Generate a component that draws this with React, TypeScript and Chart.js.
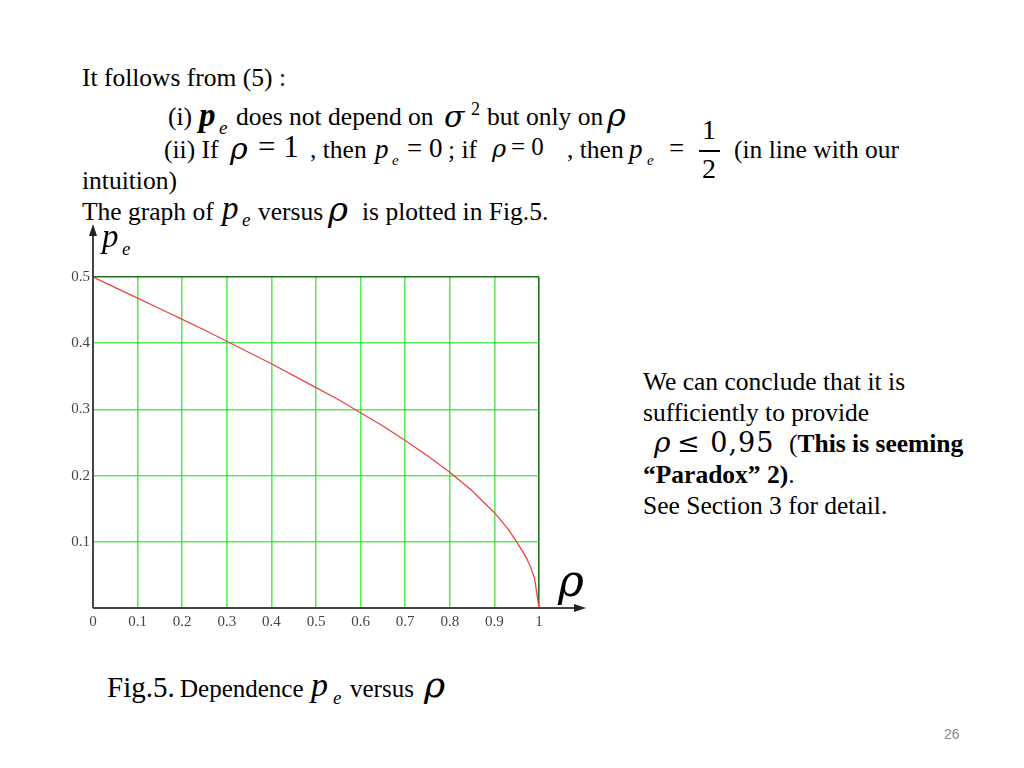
import { useEffect, useRef } from 'react';
import Chart from 'chart.js/auto';

const rho = [0, 0.05, 0.1, 0.15, 0.2, 0.25, 0.3, 0.35, 0.4, 0.45, 0.5, 0.55, 0.6, 0.65, 0.7, 0.75, 0.8, 0.85, 0.9, 0.93, 0.95, 0.97, 0.98, 0.99, 1];
const pe = [0.5, 0.484, 0.468, 0.452, 0.436, 0.42, 0.403, 0.386, 0.369, 0.351, 0.333, 0.315, 0.295, 0.275, 0.253, 0.23, 0.205, 0.177, 0.144, 0.12, 0.1, 0.078, 0.064, 0.045, 0];
const xTicks = [0, 0.1, 0.2, 0.3, 0.4, 0.5, 0.6, 0.7, 0.8, 0.9, 1];
const yTicks = [0.1, 0.2, 0.3, 0.4, 0.5];

const SERIF = '"Liberation Serif", "Times New Roman", serif';
const GREEK = '"DejaVu Serif", serif';
const BODY = 25.5;

const T = ({ x, y, s = BODY, i = false, b = false, f = SERIF, c = '#000', ls = 0, children }: any) => (
  <span
    style={{
      position: 'absolute',
      left: x,
      top: y - s * 0.84,
      fontSize: s,
      lineHeight: 1,
      fontStyle: i ? 'italic' : 'normal',
      fontWeight: b ? 'bold' : 'normal',
      fontFamily: f,
      color: c,
      letterSpacing: ls,
      whiteSpace: 'nowrap',
    }}
  >
    {children}
  </span>
);

const axisArrows = {
  id: 'axisArrows',
  afterDraw(chart: any) {
    const { ctx, chartArea } = chart;
    const { left, bottom } = chartArea;
    ctx.save();
    ctx.strokeStyle = '#444';
    ctx.fillStyle = '#222';
    ctx.lineWidth = 2;
    ctx.beginPath();
    ctx.moveTo(left, bottom);
    ctx.lineTo(left, 12);
    ctx.moveTo(left, bottom);
    ctx.lineTo(538, bottom);
    ctx.stroke();
    // arrow heads
    ctx.beginPath();
    ctx.moveTo(left, 4);
    ctx.lineTo(left - 4, 16);
    ctx.lineTo(left + 4, 16);
    ctx.closePath();
    ctx.fill();
    ctx.beginPath();
    ctx.moveTo(546, bottom);
    ctx.lineTo(534, bottom - 4);
    ctx.lineTo(534, bottom + 4);
    ctx.closePath();
    ctx.fill();
    ctx.restore();
  },
};

const PeChart = () => {
  const chartRef = useRef<HTMLCanvasElement>(null);

  useEffect(() => {
    if (!chartRef.current) return;

    const gridColor = (max: number) => (c: any) =>
      c.tick && Math.abs(c.tick.value - max) < 1e-9 ? '#1f6e1f' : 'rgba(40, 225, 40, 0.75)';

    const chartInstance = new Chart(chartRef.current, {
      type: 'line',
      data: {
        datasets: [
          {
            data: rho.map((r, i) => ({ x: r, y: pe[i] })),
            borderColor: 'rgb(232, 70, 70)',
            borderWidth: 1.3,
            pointRadius: 0,
            tension: 0,
            fill: false,
          },
        ],
      },
      options: {
        animation: false,
        responsive: true,
        maintainAspectRatio: false,
        layout: { padding: { left: 0, right: 61, top: 57, bottom: 0 } },
        plugins: {
          legend: { display: false },
          tooltip: { enabled: false },
        },
        scales: {
          x: {
            type: 'linear',
            min: 0,
            max: 1,
            afterFit: (s: any) => { s.height = 32; },
            afterBuildTicks: (s: any) => { s.ticks = xTicks.map((v) => ({ value: v })); },
            ticks: {
              color: '#444',
              padding: 5,
              font: { family: SERIF, size: 15 },
              callback: (v: any) => (v === 0 ? '0' : v === 1 ? '1' : Number(v).toFixed(1)),
            },
            grid: { color: gridColor(1), lineWidth: 1.6, drawTicks: false },
            border: { display: false },
          },
          y: {
            min: 0,
            max: 0.5,
            afterFit: (s: any) => { s.width = 53; },
            afterBuildTicks: (s: any) => { s.ticks = [0, ...yTicks].map((v) => ({ value: v })); },
            ticks: {
              color: '#444',
              padding: 3,
              font: { family: SERIF, size: 15 },
              callback: (v: any) => (v === 0 ? '' : Number(v).toFixed(1)),
            },
            grid: { color: gridColor(0.5), lineWidth: 1.6, drawTicks: false },
            border: { display: false },
          },
        },
      },
      plugins: [axisArrows],
    });

    return () => {
      chartInstance.destroy();
    };
  }, []);

  return (
    <div style={{ position: 'absolute', left: 40, top: 220, width: 560, height: 420 }}>
      <canvas ref={chartRef}></canvas>
    </div>
  );
};

const App = () => {
  return (
    <div style={{ position: 'fixed', left: 0, top: 0, width: 1024, height: 768, background: '#fff', overflow: 'hidden' }}>
      <T x={82} y={86}>It follows from (5) :</T>

      <T x={168} y={125}>(i)</T>
      <T x={199} y={127} s={33} i b>p</T>
      <T x={219} y={134} s={19} i>e</T>
      <T x={236} y={125}>does not depend on</T>
      <T x={444} y={127} s={30} i f={GREEK}>σ</T>
      <T x={471} y={115} s={18}>2</T>
      <T x={487} y={125}>but only on</T>
      <T x={607} y={126} s={32} i f={GREEK}>ρ</T>

      <T x={164} y={158}>(ii) If</T>
      <T x={230} y={159} s={30} i f={GREEK}>ρ</T>
      <T x={258} y={157} s={31}>= 1</T>
      <T x={310} y={158}>, then</T>
      <T x={375} y={159} s={27} i>p</T>
      <T x={392} y={166} s={15} i>e</T>
      <T x={407} y={158} s={27}>= 0</T>
      <T x={448} y={158}>; if</T>
      <T x={492} y={157} s={24} i f={GREEK}>ρ</T>
      <T x={511} y={155} s={25}>= 0</T>
      <T x={567} y={158}>, then</T>
      <T x={629} y={159} s={27} i>p</T>
      <T x={647} y={166} s={15} i>e</T>
      <T x={669} y={158} s={27}>=</T>
      <T x={702} y={140} s={28}>1</T>
      <div style={{ position: 'absolute', left: 699, top: 150, width: 21, height: 1.5, background: '#000' }} />
      <T x={702} y={179} s={28}>2</T>
      <T x={734} y={158}>(in line with our</T>

      <T x={82} y={189}>intuition)</T>

      <T x={82} y={220}>The graph of</T>
      <T x={222} y={220} s={33} i>p</T>
      <T x={242} y={226} s={19} i>e</T>
      <T x={258} y={220}>versus</T>
      <T x={328} y={221} s={34} i f={GREEK}>ρ</T>
      <T x={362} y={220}>is plotted in Fig.5.</T>

      <PeChart />

      <T x={102} y={248} s={33} i>p</T>
      <T x={122} y={255} s={19} i>e</T>
      <T x={558} y={596} s={44} i f={GREEK}>ρ</T>

      <T x={643} y={390}>We can conclude that it is</T>
      <T x={643} y={421}>sufficiently to provide</T>
      <T x={654} y={453} s={28} i f={GREEK}>ρ</T>
      <T x={677} y={452} s={27} f={GREEK} ls={1}>≤ 0,95</T>
      <T x={789} y={452}>(<b>This is seeming</b></T>
      <T x={643} y={483}><b>“Paradox” 2)</b>.</T>
      <T x={643} y={514}>See Section 3 for detail.</T>

      <T x={107} y={697} s={29}>Fig.5.</T>
      <T x={180} y={697} s={25}>Dependence</T>
      <T x={311} y={697} s={34} i>p</T>
      <T x={333} y={704} s={19} i>e</T>
      <T x={350} y={697} s={25}>versus</T>
      <T x={424} y={697} s={36} i f={GREEK}>ρ</T>

      <T x={944} y={739} s={14} c="#888" f={'"Liberation Sans", Arial, sans-serif'}>26</T>
    </div>
  );
};

export default App;
